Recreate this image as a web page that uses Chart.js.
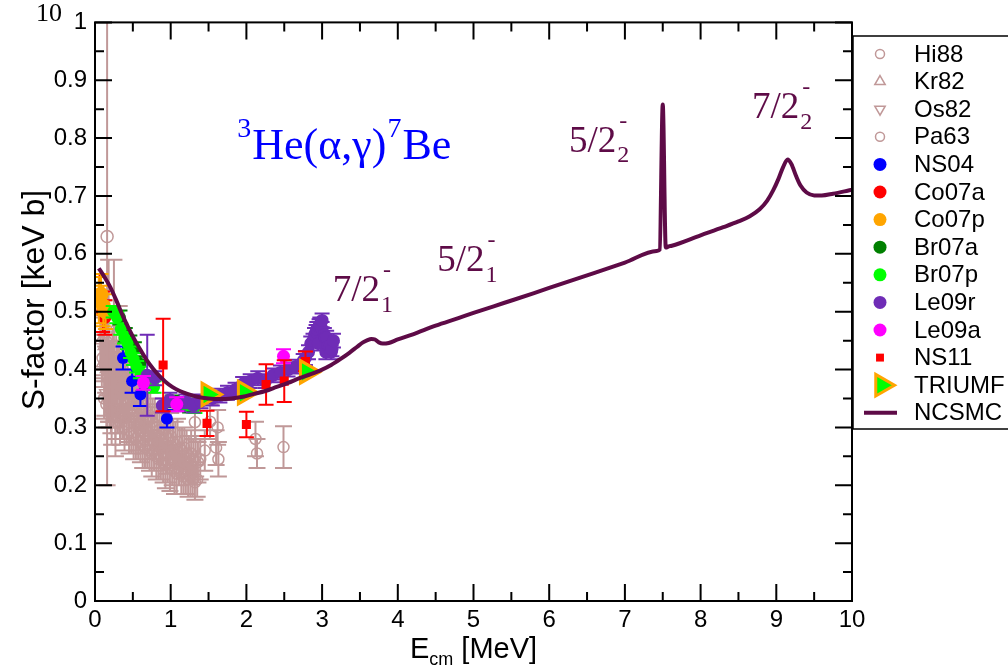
<!DOCTYPE html>
<html>
<head>
<meta charset="utf-8">
<script src="https://cdn.jsdelivr.net/npm/chart.js@4.4.1/dist/chart.umd.min.js"></script>
<style>
html,body{margin:0;padding:0;background:#fff;}
#wrap{width:1008px;height:667px;}
</style>
</head>
<body>
<div id="wrap"><canvas id="c" width="1008" height="667"></canvas></div>
<script>
// ---- axis ticks ----
const xTicks = [0,1,2,3,4,5,6,7,8,9,10];
const xTickLabels = ['0','1','2','3','4','5','6','7','8','9','10'];
const yTicks = [0,0.1,0.2,0.3,0.4,0.5,0.6,0.7,0.8,0.9,1];
const yTickLabels = ['0','0.1','0.2','0.3','0.4','0.5','0.6','0.7','0.8','0.9','1'];

// ---- NCSMC S-factor (E in MeV, S in keV b) ----
const ncsmcE = [0.05,0.12,0.2,0.28,0.37,0.45,0.53,0.61,0.69,0.77,0.85,0.93,1.02,1.12,1.22,1.35,1.5,1.65,1.8,1.95,2.1,2.25,2.4,2.55,2.7,2.85,3.0,3.12,3.24,3.36,3.46,3.54,3.6,3.65,3.7,3.75,3.8,3.88,4.0,4.2,4.5,4.8,5.0,5.4,5.8,6.2,6.6,7.0,7.42,7.46,7.5,7.54,7.58,7.62,8.0,8.3,8.5,8.65,8.78,8.88,8.96,9.03,9.09,9.15,9.2,9.26,9.32,9.4,9.5,9.6,9.75,9.9,10.0];
const ncsmcS = [0.575,0.561,0.543,0.52,0.492,0.47,0.45,0.432,0.415,0.401,0.389,0.379,0.370,0.363,0.358,0.353,0.350,0.349,0.350,0.353,0.358,0.363,0.370,0.377,0.385,0.392,0.400,0.408,0.418,0.429,0.439,0.447,0.451,0.453,0.452,0.447,0.445,0.446,0.452,0.461,0.476,0.489,0.498,0.515,0.532,0.550,0.567,0.585,0.605,0.607,0.858,0.611,0.613,0.614,0.632,0.646,0.656,0.665,0.677,0.692,0.710,0.730,0.750,0.763,0.755,0.735,0.718,0.706,0.701,0.701,0.704,0.708,0.711];

// ---- measurements ----
const hi88E = [0.10,0.13,0.16,0.19,0.22,0.25,0.28,0.31,0.34,0.37,0.40,0.43,0.46,0.49,0.52,0.55,0.58,0.61,0.64,0.67,0.70,0.73,0.76,0.79,0.82,0.85,0.88,0.91,0.94,0.97,1.00,1.03,1.06,1.09,1.12,1.15,1.18,1.21,1.24,1.27,1.30,1.33,1.36,1.39,
  0.12,0.15,0.18,0.21,0.24,0.27,0.30,0.33,0.36,0.39,0.42,0.45,0.48,0.51,0.54,0.57,0.60,0.63,0.66,0.69,0.72,0.75,0.78,0.81,0.84,0.87,0.90,0.93,0.96,0.99,1.02,1.05,1.08,1.11,1.14,1.17,1.20,1.23,1.26,1.29,1.32,1.35,
  1.32,1.45,1.52,1.60,1.62,1.63,2.12,2.14,2.49];
const hi88S = [0.42,0.41,0.40,0.41,0.39,0.40,0.38,0.39,0.37,0.38,0.36,0.37,0.35,0.36,0.345,0.35,0.335,0.34,0.325,0.33,0.315,0.32,0.31,0.305,0.30,0.295,0.29,0.295,0.285,0.28,0.285,0.275,0.27,0.275,0.265,0.26,0.265,0.255,0.25,0.255,0.245,0.25,0.24,0.245,
  0.35,0.34,0.345,0.33,0.335,0.32,0.325,0.31,0.315,0.30,0.305,0.295,0.29,0.285,0.28,0.285,0.275,0.27,0.265,0.27,0.26,0.255,0.26,0.25,0.245,0.25,0.24,0.235,0.24,0.23,0.235,0.225,0.22,0.23,0.22,0.215,0.22,0.21,0.215,0.21,0.205,0.21,
  0.309,0.26,0.31,0.265,0.30,0.245,0.28,0.255,0.266];
const hi88Err = [0.04,0.04,0.045,0.04,0.04,0.045,0.04,0.04,0.045,0.04,0.04,0.045,0.04,0.04,0.045,0.04,0.04,0.045,0.04,0.04,0.045,0.04,0.04,0.045,0.04,0.04,0.045,0.04,0.04,0.045,0.04,0.04,0.04,0.04,0.035,0.04,0.035,0.04,0.035,0.04,0.035,0.035,0.035,0.035,
  0.035,0.04,0.035,0.04,0.035,0.04,0.035,0.04,0.035,0.04,0.035,0.04,0.035,0.04,0.035,0.04,0.035,0.04,0.035,0.04,0.035,0.04,0.035,0.04,0.035,0.04,0.035,0.04,0.035,0.04,0.035,0.04,0.035,0.03,0.035,0.03,0.035,0.03,0.035,0.03,0.03,0.03,
  0.03,0.035,0.03,0.03,0.03,0.03,0.03,0.025,0.036];

const kr82E = [0.07,0.09,0.11,0.12,0.14,0.15,0.17,0.18,0.20,0.21,0.23,0.25,0.27,0.28,0.30,0.32,0.34,0.36,0.38,0.40,0.43,0.45,0.48,0.50,0.55,0.60];
const kr82S = [0.45,0.41,0.44,0.46,0.40,0.42,0.44,0.45,0.39,0.40,0.42,0.47,0.38,0.41,0.40,0.43,0.37,0.38,0.39,0.40,0.36,0.36,0.37,0.37,0.35,0.34];
const kr82Err = [0.05,0.04,0.05,0.06,0.04,0.05,0.05,0.14,0.04,0.05,0.05,0.12,0.04,0.05,0.05,0.08,0.04,0.04,0.04,0.05,0.04,0.04,0.04,0.04,0.04,0.04];

const os82E = [0.13,0.19,0.24,0.30,0.37,0.45,0.55,0.65,0.75,0.85,0.95];
const os82S = [0.36,0.34,0.35,0.33,0.32,0.315,0.30,0.295,0.285,0.27,0.26];
const os82Err = [0.04,0.04,0.04,0.04,0.04,0.04,0.04,0.04,0.04,0.04,0.04];

const pa63E = [0.16,0.22,0.27];
const pa63S = [0.63,0.33,0.31];
const pa63Err = [0.43,0.06,0.06];

const ns04E = [0.37,0.49,0.60,0.95];
const ns04S = [0.42,0.38,0.357,0.315];
const ns04Err = [0.02,0.02,0.02,0.015];

const co07aE = [0.06,0.10,0.13];
const co07aS = [0.53,0.50,0.49];
const co07aErr = [0.035,0.035,0.03];

const co07pE = [0.05,0.08,0.11,0.14];
const co07pS = [0.52,0.53,0.51,0.50];
const co07pErr = [0.04,0.035,0.035,0.03];

const br07aE = [0.33,0.40,0.46,0.52,0.60,0.70,1.02,1.12,1.25];
const br07aS = [0.49,0.46,0.447,0.435,0.41,0.38,0.345,0.34,0.336];
const br07aErr = [0.012,0.012,0.012,0.012,0.012,0.012,0.01,0.01,0.01];

const br07pE = [0.24,0.29,0.34,0.39,0.43,0.47,0.51,0.55,0.60,0.66,0.72,0.78,1.20,1.32];
const br07pS = [0.50,0.49,0.47,0.455,0.445,0.43,0.418,0.405,0.395,0.385,0.375,0.37,0.34,0.335];
const br07pErr = [0.01,0.01,0.01,0.01,0.01,0.01,0.01,0.01,0.01,0.01,0.01,0.01,0.01,0.01];

const le09rE = [0.69,0.79,0.89,0.99,1.10,1.20,1.30,1.40,1.55,1.65,1.75,1.85,1.95,2.05,2.15,2.25,2.35,2.45,2.55,2.65,2.75,2.78,2.82,2.85,2.88,2.90,2.92,2.93,2.95,2.96,2.97,3.00,3.00,3.03,3.04,3.05,3.06,3.08,3.10,3.12,3.13,3.15];
const le09rS = [0.39,0.385,0.338,0.348,0.34,0.345,0.338,0.345,0.35,0.355,0.36,0.365,0.375,0.38,0.385,0.38,0.39,0.395,0.40,0.405,0.415,0.42,0.43,0.445,0.45,0.46,0.465,0.47,0.445,0.475,0.478,0.47,0.485,0.46,0.455,0.43,0.455,0.44,0.44,0.43,0.435,0.45];
const le09rErr = [0.07,0.012,0.012,0.012,0.012,0.012,0.012,0.012,0.012,0.012,0.012,0.012,0.012,0.012,0.012,0.012,0.012,0.012,0.012,0.012,0.012,0.012,0.012,0.012,0.012,0.012,0.012,0.012,0.012,0.012,0.012,0.012,0.012,0.012,0.012,0.012,0.012,0.012,0.012,0.012,0.012,0.012];

const le09aE = [0.64,1.08,2.49];
const le09aS = [0.377,0.34,0.423];
const le09aErr = [0.012,0.012,0.012];

const ns11E = [0.90,1.48,2.00,2.26,2.50,2.78];
const ns11S = [0.408,0.307,0.305,0.374,0.38,0.414];
const ns11Err = [0.08,0.022,0.022,0.035,0.036,0.017];

const triumfE = [1.50,1.98,2.80];
const triumfS = [0.357,0.36,0.396];

// ---- colours and fonts ----
const BROWN = '#c09898';
const NCSMC_COLOR = '#5e0b47';
const SERIF = "'Liberation Serif','Times New Roman',serif";
const SANS = "'Liberation Sans',Arial,sans-serif";

function pts(E, S) { return E.map((e, i) => ({x: e, y: S[i]})); }

function marker(label, E, S, err, style, radius, fill, stroke, bw, rot, cap) {
  return {
    label, data: pts(E, S), errorBars: err, capHalf: cap || 7.5,
    pointStyle: style, pointRadius: radius, pointHoverRadius: radius,
    pointBackgroundColor: fill, pointBorderColor: stroke,
    pointBorderWidth: bw, pointRotation: rot || 0,
    errColor: stroke, showLine: false, clip: 0
  };
}

// index 0 is painted last (on top)
const datasets = [
  {label: 'NCSMC', data: pts(ncsmcE, ncsmcS), showLine: true, borderColor: NCSMC_COLOR,
   borderWidth: 4, pointRadius: 0, pointHoverRadius: 0, cubicInterpolationMode: 'monotone', clip: 0},
  marker('TRIUMF', triumfE, triumfS, null, 'triangle', 13, '#00ff00', '#ffa500', 3, 90),
  marker('NS11', ns11E, ns11S, ns11Err, 'rect', 6.4, '#ff0000', '#ff0000', 0),
  marker('Le09a', le09aE, le09aS, le09aErr, 'circle', 6.5, '#ff00ff', '#ff00ff', 0),
  marker('Le09r', le09rE, le09rS, le09rErr, 'circle', 6.5, '#6f2cb6', '#6f2cb6', 0),
  marker('Br07p', br07pE, br07pS, br07pErr, 'circle', 6, '#00ff00', '#00ff00', 0),
  marker('Br07a', br07aE, br07aS, br07aErr, 'circle', 6, '#008000', '#008000', 0),
  marker('Co07p', co07pE, co07pS, co07pErr, 'circle', 7.5, '#ffa500', '#ffa500', 0),
  marker('Co07a', co07aE, co07aS, co07aErr, 'circle', 6.5, '#ff0000', '#ff0000', 0),
  marker('NS04', ns04E, ns04S, ns04Err, 'circle', 6, '#0000ff', '#0000ff', 0),
  marker('Pa63', pa63E, pa63S, pa63Err, 'circle', 6, 'rgba(0,0,0,0)', BROWN, 1.5, 0, 8.5),
  marker('Os82', os82E, os82S, os82Err, 'triangle', 6, 'rgba(0,0,0,0)', BROWN, 1.5, 180, 8.5),
  marker('Kr82', kr82E, kr82S, kr82Err, 'triangle', 6, 'rgba(0,0,0,0)', BROWN, 1.5, 0, 8.5),
  marker('Hi88', hi88E, hi88S, hi88Err, 'circle', 5.5, 'rgba(0,0,0,0)', BROWN, 1.5, 0, 8.5)
];

const legendOrder = ['Hi88','Kr82','Os82','Pa63','NS04','Co07a','Co07p','Br07a','Br07p','Le09r','Le09a','NS11','TRIUMF','NCSMC'];
const legendRadius = {Hi88: 4.5, Kr82: 6, Os82: 6, Pa63: 4.5, NS04: 6.5, Co07a: 6.5, Co07p: 6.5,
  Br07a: 6.5, Br07p: 6.5, Le09r: 6.5, Le09a: 6.5, NS11: 5.6, TRIUMF: 12.5};

// error bars, painted right before each dataset's markers
const errorBars = {
  id: 'errorBars',
  beforeDatasetDraw(chart, args) {
    const ds = chart.data.datasets[args.index];
    if (!ds.errorBars) return;
    const {ctx, chartArea: a, scales: {x, y}} = chart;
    const h = ds.capHalf;
    ctx.save();
    ctx.beginPath();
    ctx.rect(a.left, a.top, a.right - a.left, a.bottom - a.top);
    ctx.clip();
    ctx.strokeStyle = ds.errColor;
    ctx.lineWidth = 2;
    ctx.beginPath();
    ds.data.forEach((p, i) => {
      const e = ds.errorBars[i];
      const px = x.getPixelForValue(p.x);
      const y1 = y.getPixelForValue(p.y + e), y2 = y.getPixelForValue(p.y - e);
      ctx.moveTo(px, y1); ctx.lineTo(px, y2);
      ctx.moveTo(px - h, y1); ctx.lineTo(px + h, y1);
      ctx.moveTo(px - h, y2); ctx.lineTo(px + h, y2);
    });
    ctx.stroke();
    ctx.restore();
  }
};

function spinLabel(ctx, x, y, main, sub, sup, size) {
  ctx.font = size + 'px ' + SERIF;
  ctx.fillText(main, x, y);
  const w = ctx.measureText(main).width;
  const s2 = Math.round(size * 0.64);
  ctx.font = s2 + 'px ' + SERIF;
  ctx.fillText(sub, x + w + 1, y + size * 0.28);
  ctx.fillText(sup, x + w + 3, y - size * 0.66);
}

// frame with inward ticks, titles, annotations and legend
const decor = {
  id: 'decor',
  afterDraw(chart) {
    const {ctx, chartArea: a, scales: {x, y}} = chart;
    ctx.save();
    // frame
    ctx.strokeStyle = '#000';
    ctx.lineWidth = 2;
    ctx.strokeRect(a.left, a.top, a.right - a.left, a.bottom - a.top);
    ctx.beginPath();
    const MAJ = 17, MIN = 9;
    xTicks.forEach((v, i) => {
      const px = x.getPixelForValue(v);
      ctx.moveTo(px, a.bottom); ctx.lineTo(px, a.bottom - MAJ);
      ctx.moveTo(px, a.top); ctx.lineTo(px, a.top + MAJ);
      if (i < xTicks.length - 1) {
        const pm = x.getPixelForValue((v + xTicks[i + 1]) / 2);
        ctx.moveTo(pm, a.bottom); ctx.lineTo(pm, a.bottom - MIN);
        ctx.moveTo(pm, a.top); ctx.lineTo(pm, a.top + MIN);
      }
    });
    yTicks.forEach((v, i) => {
      const py = y.getPixelForValue(v);
      ctx.moveTo(a.left, py); ctx.lineTo(a.left + MAJ, py);
      ctx.moveTo(a.right, py); ctx.lineTo(a.right - MAJ, py);
      if (i < yTicks.length - 1) {
        const pm = y.getPixelForValue((v + yTicks[i + 1]) / 2);
        ctx.moveTo(a.left, pm); ctx.lineTo(a.left + MIN, pm);
        ctx.moveTo(a.right, pm); ctx.lineTo(a.right - MIN, pm);
      }
    });
    ctx.stroke();

    // axis titles
    ctx.fillStyle = '#000';
    ctx.textBaseline = 'alphabetic';
    ctx.textAlign = 'left';
    ctx.save();
    ctx.translate(44, 300);
    ctx.rotate(-Math.PI / 2);
    ctx.font = '32px ' + SANS;
    ctx.textAlign = 'center';
    ctx.fillText('S-factor [keV b]', 0, 0);
    ctx.restore();

    ctx.font = '29px ' + SANS;
    const wE = ctx.measureText('E').width;
    const wR = ctx.measureText(' [MeV]').width;
    ctx.font = '18px ' + SANS;
    const wc = ctx.measureText('cm').width;
    let tx = (a.left + a.right) / 2 - (wE + wc + wR) / 2;
    const base = 658;
    ctx.font = '29px ' + SANS; ctx.fillText('E', tx, base); tx += wE;
    ctx.font = '18px ' + SANS; ctx.fillText('cm', tx, base + 7); tx += wc;
    ctx.font = '29px ' + SANS; ctx.fillText(' [MeV]', tx, base);

    // stray label at top left
    ctx.font = '26px ' + SERIF;
    ctx.fillText('10', 36, 21);

    // reaction label
    ctx.fillStyle = '#0000ff';
    let rx = x.getPixelForValue(1.88), ry = y.getPixelForValue(0.764);
    ctx.font = '28px ' + SERIF; ctx.fillText('3', rx, ry - 22); rx += ctx.measureText('3').width + 1;
    ctx.font = '44px ' + SERIF; ctx.fillText('He(\u03b1,\u03b3)', rx, ry); rx += ctx.measureText('He(\u03b1,\u03b3)').width + 1;
    ctx.font = '28px ' + SERIF; ctx.fillText('7', rx, ry - 22); rx += ctx.measureText('7').width + 1;
    ctx.font = '44px ' + SERIF; ctx.fillText('Be', rx, ry);

    // resonance labels
    ctx.fillStyle = NCSMC_COLOR;
    spinLabel(ctx, x.getPixelForValue(3.14), y.getPixelForValue(0.518), '7/2', '1', '-', 37);
    spinLabel(ctx, x.getPixelForValue(4.52), y.getPixelForValue(0.57), '5/2', '1', '-', 37);
    spinLabel(ctx, x.getPixelForValue(6.26), y.getPixelForValue(0.776), '5/2', '2', '-', 37);
    spinLabel(ctx, x.getPixelForValue(8.68), y.getPixelForValue(0.834), '7/2', '2', '-', 37);

    // legend
    const LX = 853, LY = 36, LW = 160, LH = 393;
    ctx.fillStyle = '#fff';
    ctx.fillRect(LX, LY, LW, LH);
    ctx.strokeStyle = '#000';
    ctx.lineWidth = 1.5;
    ctx.strokeRect(LX, LY, LW, LH);
    legendOrder.forEach((name, i) => {
      const ds = chart.data.datasets.find(d => d.label === name);
      const cy = 54 + i * 27.6;
      const mx = 880;
      if (name === 'NCSMC') {
        ctx.strokeStyle = ds.borderColor;
        ctx.lineWidth = 4;
        ctx.beginPath(); ctx.moveTo(864, cy); ctx.lineTo(897, cy); ctx.stroke();
      } else {
        ctx.fillStyle = ds.pointBackgroundColor;
        ctx.strokeStyle = ds.pointBorderColor;
        ctx.lineWidth = ds.pointBorderWidth || 0;
        Chart.helpers.drawPoint(ctx, {
          pointStyle: ds.pointStyle, radius: legendRadius[name],
          rotation: ds.pointRotation || 0, borderWidth: ds.pointBorderWidth || 0
        }, name === 'TRIUMF' ? mx + 2 : mx, cy);
      }
      ctx.fillStyle = '#000';
      ctx.font = '24px ' + SANS;
      ctx.textBaseline = 'middle';
      ctx.fillText(name, 914, cy + 1);
      ctx.textBaseline = 'alphabetic';
    });
    ctx.restore();
  }
};

new Chart(document.getElementById('c'), {
  type: 'scatter',
  data: {datasets},
  options: {
    responsive: false,
    animation: false,
    devicePixelRatio: 1,
    layout: {padding: {left: 0, right: 156, top: 16, bottom: 0}},
    plugins: {legend: {display: false}, tooltip: {enabled: false}},
    scales: {
      x: {
        type: 'linear', min: 0, max: 10,
        afterFit(s) { s.height = 66; },
        afterBuildTicks(s) { s.ticks = xTicks.map(v => ({value: v})); },
        grid: {display: false, drawTicks: false},
        border: {display: false},
        ticks: {autoSkip: false, maxRotation: 0, padding: 5, color: '#000',
          font: {family: SANS, size: 24},
          callback: (v) => xTickLabels[xTicks.indexOf(v)]}
      },
      y: {
        type: 'linear', min: 0, max: 1,
        afterFit(s) { s.width = 95; },
        afterBuildTicks(s) { s.ticks = yTicks.map(v => ({value: v})); },
        grid: {display: false, drawTicks: false},
        border: {display: false},
        ticks: {autoSkip: false, padding: 8, color: '#000',
          font: {family: SANS, size: 24},
          callback: (v) => yTickLabels[yTicks.indexOf(v)]}
      }
    }
  },
  plugins: [errorBars, decor]
});
</script>
</body>
</html>
